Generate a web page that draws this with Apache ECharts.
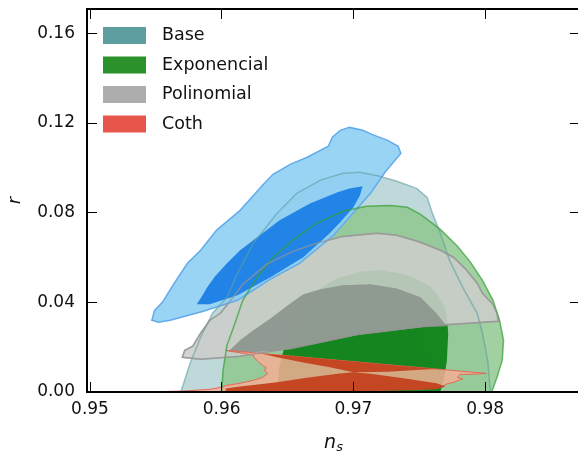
<!DOCTYPE html>
<html>
<head>
<meta charset="utf-8">
<script src="https://cdn.jsdelivr.net/npm/echarts@6/dist/echarts.min.js"></script>
<style>
  html, body { margin: 0; padding: 0; background: #fff; }
  #main { width: 578px; height: 453px; }
</style>
</head>
<body>
<div id="main"></div>
<script>
// contour outlines as [n_s, r] pairs

// blue (unlabelled) contours
const planckOuter = [[0.9547,0.0320],[0.9549,0.0364],[0.9555,0.0400],[0.9563,0.0476],[0.9574,0.0574],[0.9584,0.0632],[0.9596,0.0721],[0.9614,0.0810],[0.9631,0.0922],[0.9639,0.0971],[0.9652,0.1015],[0.9665,0.1047],[0.9681,0.1096],[0.9684,0.1136],[0.9690,0.1167],[0.9697,0.1180],[0.9707,0.1167],[0.9714,0.1149],[0.9726,0.1122],[0.9734,0.1096],[0.9736,0.1064],[0.9724,0.0980],[0.9713,0.0886],[0.9697,0.0779],[0.9685,0.0699],[0.9659,0.0574],[0.9637,0.0503],[0.9612,0.0409],[0.9586,0.0360],[0.9561,0.0320],[0.9552,0.0311]];
const planckInner = [[0.9581,0.0391],[0.9585,0.0427],[0.9589,0.0467],[0.9595,0.0516],[0.9604,0.0574],[0.9614,0.0632],[0.9624,0.0677],[0.9644,0.0766],[0.9667,0.0841],[0.9688,0.0891],[0.9697,0.0908],[0.9707,0.0917],[0.9705,0.0877],[0.9700,0.0824],[0.9690,0.0757],[0.9682,0.0708],[0.9662,0.0601],[0.9637,0.0512],[0.9612,0.0431],[0.9591,0.0391]];

// Base
const baseOuter = [[0.9569,0],[0.9576,0.0128],[0.9584,0.0244],[0.9593,0.0351],[0.9604,0.0422],[0.9612,0.0530],[0.9624,0.0663],[0.9642,0.0797],[0.9657,0.0886],[0.9675,0.0945],[0.9692,0.0975],[0.9705,0.0980],[0.9720,0.0962],[0.9733,0.0940],[0.9748,0.0908],[0.9756,0.0868],[0.9760,0.0797],[0.9766,0.0708],[0.9773,0.0587],[0.9783,0.0467],[0.9794,0.0351],[0.9798,0.0262],[0.9802,0.0141],[0.9804,0]];
const baseInner = [[0.9652,0],[0.9656,0.0186],[0.9667,0.0328],[0.9686,0.0409],[0.9709,0.0440],[0.9733,0.0409],[0.9746,0.0328],[0.9753,0.0231],[0.9758,0.0119],[0.9758,0]];

// Exponencial
const expOuter = [[0.9600,0],[0.9601,0.0097],[0.9604,0.0208],[0.9609,0.0289],[0.9616,0.0409],[0.9627,0.0512],[0.9639,0.0601],[0.9654,0.0677],[0.9672,0.0752],[0.9692,0.0806],[0.9710,0.0828],[0.9728,0.0832],[0.9741,0.0824],[0.9751,0.0792],[0.9766,0.0725],[0.9779,0.0650],[0.9789,0.0578],[0.9798,0.0498],[0.9806,0.0409],[0.9811,0.0320],[0.9814,0.0231],[0.9813,0.0141],[0.9809,0.0065],[0.9805,0]];
const expInner = [[0.9642,0],[0.9644,0.0119],[0.9648,0.0208],[0.9657,0.0351],[0.9669,0.0440],[0.9688,0.0508],[0.9707,0.0539],[0.9720,0.0543],[0.9735,0.0530],[0.9745,0.0512],[0.9757,0.0476],[0.9763,0.0440],[0.9769,0.0386],[0.9771,0.0333],[0.9772,0.0262],[0.9771,0.0141],[0.9769,0.0061],[0.9766,0]];

// Polinomial
const polyOuter = [[0.9570,0.0155],[0.9572,0.0186],[0.9578,0.0204],[0.9584,0.0262],[0.9591,0.0320],[0.9599,0.0351],[0.9608,0.0418],[0.9616,0.0480],[0.9634,0.0569],[0.9654,0.0627],[0.9672,0.0663],[0.9692,0.0694],[0.9718,0.0708],[0.9733,0.0699],[0.9751,0.0668],[0.9766,0.0632],[0.9776,0.0601],[0.9786,0.0543],[0.9794,0.0485],[0.9798,0.0440],[0.9806,0.0391],[0.9809,0.0351],[0.9810,0.0315],[0.9753,0.0293],[0.9703,0.0258],[0.9652,0.0195],[0.9614,0.0159],[0.9584,0.0146]];
const polyInner = [[0.9605,0.0181],[0.9614,0.0231],[0.9624,0.0275],[0.9637,0.0328],[0.9650,0.0386],[0.9662,0.0436],[0.9675,0.0458],[0.9692,0.0476],[0.9713,0.0480],[0.9733,0.0462],[0.9751,0.0422],[0.9763,0.0351],[0.9771,0.0293],[0.9753,0.0289],[0.9703,0.0253],[0.9652,0.0190],[0.9614,0.0173]];

// Coth
const cothOuter = [[0.9603,0.0186],[0.9659,0.0157],[0.9735,0.0117],[0.9801,0.0083],[0.9789,0.0079],[0.9781,0.0079],[0.9779,0.0065],[0.9783,0.0059],[0.9776,0.0043],[0.9770,0.0034],[0.9766,0.0021],[0.9751,0.0012],[0.9720,0.0008],[0.9682,0.0003],[0.9644,0],[0.9546,0],[0.9572,0.0005],[0.9591,0.0012],[0.9599,0.0021],[0.9604,0.0030],[0.9614,0.0039],[0.9624,0.0052],[0.9631,0.0065],[0.9635,0.0083],[0.9632,0.0097],[0.9634,0.0106],[0.9631,0.0119],[0.9629,0.0128],[0.9627,0.0141],[0.9625,0.0150],[0.9624,0.0164],[0.9612,0.0177]];
const cothInner = [[0.9631,0.0171],[0.9659,0.0157],[0.9697,0.0137],[0.9735,0.0117],[0.9763,0.0103],[0.9751,0.0099],[0.9726,0.0090],[0.9700,0.0088],[0.9713,0.0081],[0.9738,0.0061],[0.9763,0.0039],[0.9770,0.0025],[0.9763,0.0012],[0.9735,0.0008],[0.9697,0.0003],[0.9659,0],[0.9603,0],[0.9603,0.0016],[0.9614,0.0025],[0.9642,0.0043],[0.9662,0.0061],[0.9688,0.0081],[0.9700,0.0088],[0.9682,0.0110],[0.9662,0.0132],[0.9642,0.0155],[0.9631,0.0171]];

const legendNames = ['Base', 'Exponencial', 'Polinomial', 'Coth'];
const legendColors = ['#5f9ea0', '#2b922b', '#adadad', '#e8564b'];

const xTicks = [0.95, 0.96, 0.97, 0.98];
const yTicks = [0.00, 0.04, 0.08, 0.12, 0.16];

const FONT = 'DejaVu Sans';

// one custom series per contour set, each data item is one level
function contourSeries(name, color, shapes, styles) {
  return {
    type: 'custom',
    name: name,
    silent: true,
    clip: true,
    itemStyle: { color: color },
    data: shapes.map(s => s[0]),
    renderItem: function (params, api) {
      const pts = shapes[params.dataIndex].map(p => api.coord(p));
      const st = styles[params.dataIndex];
      return {
        type: st.open ? 'polyline' : 'polygon',
        shape: { points: pts },
        style: {
          fill: st.open ? null : (st.fill || null),
          stroke: st.stroke || null,
          lineWidth: st.lineWidth || 0
        }
      };
    }
  };
}

var myChart = echarts.init(document.getElementById('main'));

var axisCommon = {
  axisLine: { onZero: false, lineStyle: { color: '#000', width: 2 } },
  axisTick: { show: true, inside: true, length: 10, lineStyle: { color: '#000', width: 1 } },
  splitLine: { show: false },
  z: 10
};

var option = {
  animation: false,
  grid: { left: 87, top: 9, width: 493, height: 383, outerBoundsMode: 'none' },
  legend: {
    data: legendNames,
    orient: 'vertical',
    left: 103,
    top: 26.5,
    padding: 0,
    itemWidth: 43,
    itemHeight: 17,
    itemGap: 11.5,
    icon: 'rect',
    selectedMode: false,
    textStyle: { fontFamily: FONT, fontSize: 17.5, lineHeight: 17, color: '#111', padding: [0, 0, 0, 11] }
  },
  xAxis: [
    Object.assign({}, axisCommon, {
      type: 'value', min: 0.949772, max: 0.987206, splitNumber: 4,
      name: '{n|n}{s|s}',
      nameLocation: 'middle',
      nameGap: 40,
      nameTextStyle: {
        rich: {
          n: { fontFamily: FONT, fontStyle: 'italic', fontSize: 19, color: '#111', lineHeight: 22 },
          s: { fontFamily: FONT, fontStyle: 'italic', fontSize: 13, color: '#111', lineHeight: 22, verticalAlign: 'bottom', padding: [7, 0, 0, 0] }
        }
      },
      axisLabel: {
        fontFamily: FONT, fontSize: 17, color: '#111', margin: 9,
        showMinLabel: false, showMaxLabel: false,
        formatter: v => xTicks.some(t => Math.abs(t - v) < 1e-6) ? v.toFixed(2) : ''
      }
    }),
    Object.assign({}, axisCommon, {
      type: 'value', min: 0.949772, max: 0.987206, splitNumber: 4,
      position: 'top', axisLabel: { show: false }
    })
  ],
  yAxis: [
    Object.assign({}, axisCommon, {
      type: 'value', min: 0, max: 0.1708, interval: 0.04,
      name: 'r',
      nameLocation: 'middle',
      nameGap: 63,
      nameRotate: 90,
      nameTextStyle: { fontFamily: FONT, fontStyle: 'italic', fontSize: 18, color: '#111' },
      axisLabel: {
        fontFamily: FONT, fontSize: 17, color: '#111', margin: 12,
        showMaxLabel: false,
        formatter: v => yTicks.some(t => Math.abs(t - v) < 1e-6) ? v.toFixed(2) : ''
      }
    }),
    Object.assign({}, axisCommon, {
      type: 'value', min: 0, max: 0.1708, interval: 0.04,
      position: 'right', axisLabel: { show: false },
      axisLine: { show: false, onZero: false }
    })
  ],
  series: [
    contourSeries('Base', legendColors[0], [baseOuter, baseInner], [
      { fill: 'rgba(95,158,160,0.4)' },
      { fill: 'rgba(95,158,160,0.45)' }
    ]),
    contourSeries('Exponencial', legendColors[1], [expOuter, expInner], [
      { fill: 'rgba(145,200,145,0.85)' },
      { fill: 'rgba(8,128,18,0.9)' }
    ]),
    contourSeries('Polinomial', legendColors[2], [polyOuter, polyInner], [
      { fill: 'rgba(204,206,204,0.88)', stroke: 'rgba(160,160,160,0.8)', lineWidth: 1.5 },
      { fill: 'rgba(136,146,137,0.85)' }
    ]),
    contourSeries('Coth', legendColors[3], [cothOuter, cothInner], [
      { fill: 'rgba(245,175,150,0.85)', stroke: 'rgba(228,98,80,0.9)', lineWidth: 1 },
      { fill: 'rgba(196,66,30,0.96)' }
    ]),
    contourSeries('Planck', '#1e80e6', [planckOuter, planckInner], [
      { fill: 'rgba(140,206,244,0.88)', stroke: '#62abed', lineWidth: 1.5 },
      { fill: 'rgba(28,128,230,0.95)' }
    ]),
    // edges drawn over the blue fills
    contourSeries('Base edge', legendColors[0], [baseOuter], [
      { open: true, stroke: 'rgba(95,158,160,0.6)', lineWidth: 1.5 }
    ]),
    contourSeries('Exponencial edge', legendColors[1], [expOuter], [
      { open: true, stroke: 'rgba(50,160,50,0.7)', lineWidth: 1.5 }
    ]),
    contourSeries('Polinomial edge', legendColors[2], [polyOuter.concat([polyOuter[0]])], [
      { open: true, stroke: 'rgba(150,150,150,0.7)', lineWidth: 1.5 }
    ])
  ]
};

myChart.setOption(option);
</script>
</body>
</html>
